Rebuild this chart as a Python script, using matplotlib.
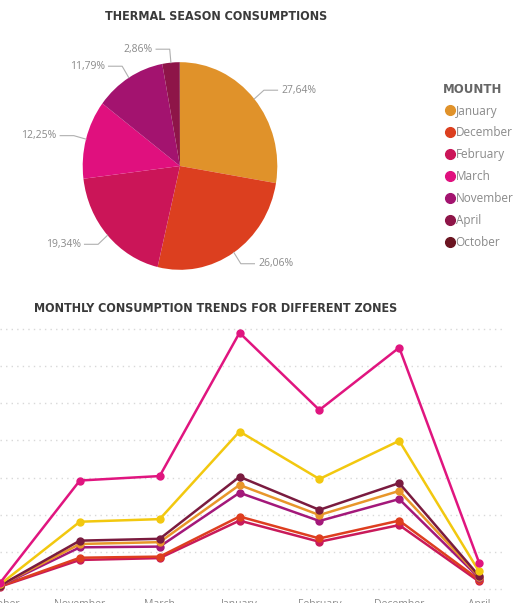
import numpy as np
import matplotlib.pyplot as plt
from matplotlib.lines import Line2D

# Дані кругової діаграми (частка за місяцями, %)
pie_months = ['January', 'December', 'February', 'March', 'November', 'April', 'October']
pie_shares = [27.64, 26.06, 19.34, 12.25, 11.79, 2.86, 0.06]
pie_colors = ['#E0922A', '#DC3F1F', '#CB1558', '#E0107E', '#A3136F', '#8E1548', '#6B1521']

# Дані лінійного графіка (споживання за зонами)
line_months = ['October', 'November', 'March', 'January', 'February', 'December', 'April']
zone_a = [16, 292, 304, 690, 482, 650, 71]
zone_b = [12, 181, 188, 424, 296, 399, 47]
zone_c = [9, 130, 135, 302, 213, 285, 35]
zone_d = [9, 121, 126, 280, 199, 264, 33]
zone_e = [8, 112, 114, 259, 183, 242, 30]
zone_f = [7, 84, 87, 195, 136, 184, 25]
zone_g = [6, 78, 83, 184, 127, 172, 20]
zones = [zone_g, zone_f, zone_e, zone_d, zone_c, zone_b, zone_a]
zone_colors = ['#C91A5A', '#DE3E1F', '#A3187A', '#E8962A', '#7A1B3F', '#F2C80F', '#E0157F']

W, H = 522, 603
fig = plt.figure(figsize=(W / 100, H / 100), dpi=100)

title_font = dict(family='DejaVu Sans', stretch='condensed', fontsize=9.0,
                  color='#3a3a3a', fontweight='semibold')
grey = '#8a8a8a'

# --- Кругова діаграма ---
fig.text(216 / W, 1 - 17 / H, 'THERMAL SEASON CONSUMPTIONS', ha='center', va='center', **title_font)

ax1 = fig.add_axes([0, (H - 302) / H, 360 / W, 272 / H])
wedges, _ = ax1.pie(pie_shares, colors=pie_colors, startangle=90, counterclock=False,
                    wedgeprops=dict(linewidth=0))
ax1.set_aspect('auto')
ax1.set_xlim(-1.85, 1.85)
ax1.set_ylim(-1.31, 1.31)

for w, share in zip(wedges, pie_shares):
    if share < 1:
        continue
    ang = np.deg2rad((w.theta1 + w.theta2) / 2)
    c, s = np.cos(ang), np.sin(ang)
    side = 1 if c >= 0 else -1
    x0, y0 = 1.0 * c, 1.0 * s
    x1, y1 = 1.13 * c, 1.13 * s
    x2 = x1 + side * 0.14
    ax1.plot([x0, x1, x2], [y0, y1, y1], color='#b0b0b0', lw=0.8, clip_on=False)
    ax1.text(x2 + side * 0.04, y1, f'{share:.2f}%'.replace('.', ','),
             ha='left' if side > 0 else 'right', va='center',
             fontsize=7.5, color=grey, family='Open Sans')

handles = [Line2D([], [], marker='o', ls='', color=c, markersize=7) for c in pie_colors]
leg = fig.legend(handles, pie_months, title='MOUNTH', loc='upper left',
                 bbox_to_anchor=(438 / W, 1 - 78 / H), frameon=False,
                 handletextpad=-0.1, labelspacing=0.75, borderaxespad=0,
                 handlelength=1.2, prop=dict(family='Open Sans', size=8.5))
leg.get_title().set_fontweight('bold')
leg.get_title().set_color('#666666')
leg.get_title().set_fontsize(8.5)
leg._legend_box.align = 'left'
for t in leg.get_texts():
    t.set_color(grey)

# --- Лінійний графік ---
fig.text(34 / W, 1 - 308 / H, 'MONTHLY CONSUMPTION TRENDS FOR DIFFERENT ZONES',
         ha='left', va='center', **title_font)

ax2 = fig.add_axes([0, (H - 593) / H, 505 / W, 271 / H])
x = np.arange(len(line_months))
for vals, col in zip(zones, zone_colors):
    ax2.plot(x, vals, color=col, lw=1.8, marker='o', markersize=5)

ax2.set_xlim(0.075, 6.325)
ax2.set_ylim(-11, 719)
ax2.set_yticks(np.arange(0, 701, 100))
ax2.set_xticks(x)
ax2.set_xticklabels(line_months, fontsize=7.5, color=grey, family='Open Sans')
ax2.tick_params(axis='x', length=0, pad=4)
ax2.tick_params(axis='y', length=0, labelleft=False)
ax2.grid(axis='y', color='#d8d8d8', ls=(0, (1, 3)), lw=1)
for sp in ax2.spines.values():
    sp.set_visible(False)

plt.savefig('out.png', dpi=100)
